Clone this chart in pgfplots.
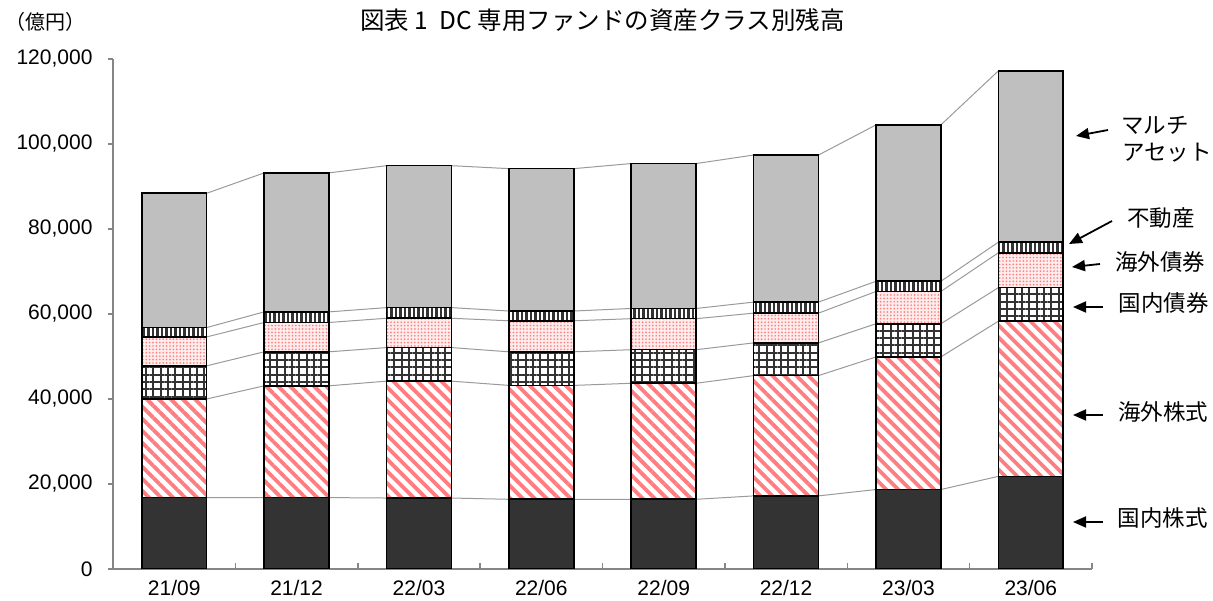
\documentclass[border=0pt]{standalone}
\usepackage{fontspec}
\setmainfont{Liberation Sans}
\newfontfamily\jp{Noto Sans CJK JP}
\usepackage{pgfplots}
\pgfplotsset{compat=1.18}
\usepackage{pgfplotstable}
\usetikzlibrary{patterns.meta,arrows.meta}
\definecolor{dk}{HTML}{333333}
\definecolor{mul}{HTML}{BFBFBF}
\definecolor{strp}{HTML}{FF7C80}
\definecolor{dotc}{HTML}{FF8080}
\definecolor{dotbg}{HTML}{FFECEC}
\definecolor{gridc}{HTML}{A6A6A6}
\definecolor{axc}{HTML}{868686}
\definecolor{slc}{HTML}{9A9A9A}

% a=国内株式 b=海外株式 c=国内債券 d=海外債券 e=不動産 f=マルチアセット
\pgfplotstableread{
x a b c d e f
0 16800 23200 7800 6800 2200 31600
1 16800 26300 8000 6900 2500 32700
2 16700 27500 7900 6900 2500 33400
3 16400 26800 7900 7300 2300 33500
4 16400 27300 7900 7300 2400 34100
5 17200 28300 7700 7000 2600 34600
6 18700 31200 7800 7600 2400 36800
7 21800 36500 7900 8200 2500 40300
}\bars

% same values at the left and right edge of each bar, for the series lines
\pgfplotstableread{
x a b c d e f
-0.265 16800 23200 7800 6800 2200 31600
0.265 16800 23200 7800 6800 2200 31600
0.735 16800 26300 8000 6900 2500 32700
1.265 16800 26300 8000 6900 2500 32700
1.735 16700 27500 7900 6900 2500 33400
2.265 16700 27500 7900 6900 2500 33400
2.735 16400 26800 7900 7300 2300 33500
3.265 16400 26800 7900 7300 2300 33500
3.735 16400 27300 7900 7300 2400 34100
4.265 16400 27300 7900 7300 2400 34100
4.735 17200 28300 7700 7000 2600 34600
5.265 17200 28300 7700 7000 2600 34600
5.735 18700 31200 7800 7600 2400 36800
6.265 18700 31200 7800 7600 2400 36800
6.735 21800 36500 7900 8200 2500 40300
7.265 21800 36500 7900 8200 2500 40300
}\slines

\newcommand\fs{\fontsize{21bp}{25bp}\selectfont}
\newcommand\fa{\fontsize{22.5bp}{26bp}\selectfont}

\begin{document}
\begin{tikzpicture}
\useasboundingbox (-113bp,-32bp) rectangle (1100bp,569bp);

% background axis: grid, x ticks, series lines
\begin{axis}[at={(0,0)}, anchor=south west,
  width=979bp, height=510bp, scale only axis,
  xmin=-0.5, xmax=7.5, ymin=0, ymax=120000,
  axis x line=bottom, axis y line=none,
  axis line style={draw=none},
  xtick={-0.5,0.5,...,7.5}, xticklabels={},
  tick align=inside, major tick length=6bp,
  xtick style={draw=axc, line width=1.5bp},
  ytick={0,20000,...,120000}, yticklabels={},
  ymajorgrids, major grid style={draw=gridc, dotted, line width=0.9bp},
  stack plots=y]
\addplot[slc, line width=1bp, no marks] table[x=x,y=a] {\slines};
\addplot[slc, line width=1bp, no marks] table[x=x,y=b] {\slines};
\addplot[slc, line width=1bp, no marks] table[x=x,y=c] {\slines};
\addplot[slc, line width=1bp, no marks] table[x=x,y=d] {\slines};
\addplot[slc, line width=1bp, no marks] table[x=x,y=e] {\slines};
\addplot[slc, line width=1bp, no marks] table[x=x,y=f] {\slines};
\end{axis}

% bars
\begin{axis}[at={(0,0)}, anchor=south west,
  width=979bp, height=510bp, scale only axis,
  xmin=-0.5, xmax=7.5, ymin=0, ymax=120000,
  ybar stacked, bar width=0.53,
  axis lines=left,
  axis line style={-, draw=axc, line width=2bp},
  xtick={0,...,7},
  xticklabels={21/09,21/12,22/03,22/06,22/09,22/12,23/03,23/06},
  xtick style={draw=none},
  ytick={0,20000,...,120000},
  tick align=outside, major tick length=5bp,
  ytick style={draw=axc, line width=1.5bp},
  scaled y ticks=false,
  yticklabel style={/pgf/number format/fixed, /pgf/number format/1000 sep={,}, xshift=-12bp},
  xticklabel style={yshift=-3bp},
  /pgf/number format/assume math mode=true,
  tick label style={font=\fs},
  ]
\addplot[fill=dk, draw=black, line width=1.6bp] table[x=x,y=a] {\bars};
\addplot[fill=white, draw=black, line width=1.6bp,
  postaction={pattern={Lines[angle=-45,distance=8.5bp,line width=3.8bp]}, pattern color=strp}] table[x=x,y=b] {\bars};
\addplot[fill=white, draw=black, line width=1.6bp,
  postaction={pattern={Hatch[angle=0,distance=7.3bp,line width=2bp]}, pattern color=dk}] table[x=x,y=c] {\bars};
\addplot[fill=dotbg, draw=black, line width=1.6bp,
  postaction={pattern={Dots[distance=3.4bp,radius=0.95bp]}, pattern color=dotc}] table[x=x,y=d] {\bars};
\addplot[fill=white, draw=black, line width=1.6bp,
  postaction={pattern={Lines[angle=90,distance=4.5bp,line width=2.4bp]}, pattern color=dk}] table[x=x,y=e] {\bars};
\addplot[fill=mul, draw=black, line width=1.6bp] table[x=x,y=f] {\bars};
\end{axis}

% title and unit
\node[font=\jp\fontsize{24.5bp}{28bp}\selectfont] at (489.5bp,549bp) {図表 1 \ DC 専用ファンドの資産クラス別残高};
\node[font=\jp\fontsize{20bp}{24bp}\selectfont, anchor=west, inner sep=0pt] at (-108bp,547bp) {（億円）};

% annotations
\begin{scope}[font=\jp\fa, inner sep=0pt]
\node[anchor=west] at (1008bp,444bp) {マルチ};
\node[anchor=west] at (1009bp,416bp) {アセット};
\node at (1048bp,351bp) {不動産};
\node at (1047bp,307bp) {海外債券};
\node at (1050.5bp,266bp) {国内債券};
\node at (1050bp,157bp) {海外株式};
\node at (1049.5bp,51bp) {国内株式};
\end{scope}
\begin{scope}[line width=1.8bp, -{Triangle[length=13bp,width=11bp]}]
\draw (995bp,439bp) -- (963bp,433bp);
\draw (999bp,348bp) -- (956bp,325bp);
\draw (987bp,305bp) -- (959bp,302bp);
\draw (990bp,262bp) -- (960bp,262bp);
\draw (990bp,154bp) -- (960bp,154bp);
\draw (990bp,47bp) -- (960bp,47bp);
\end{scope}
\end{tikzpicture}
\end{document}
